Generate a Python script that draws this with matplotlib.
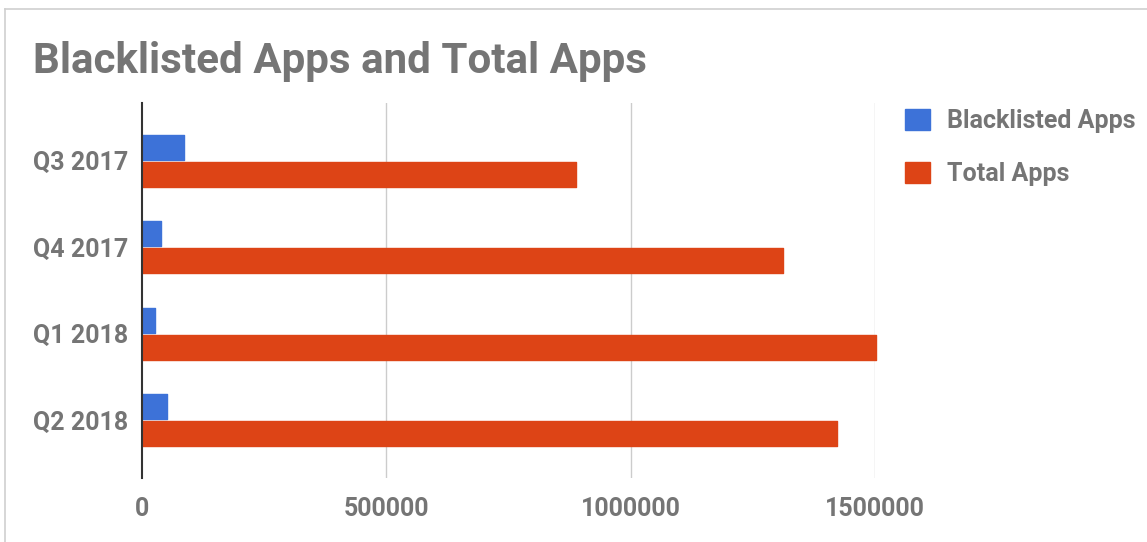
import numpy as np
import matplotlib.pyplot as plt
from matplotlib.lines import Line2D

quarters = ['Q3 2017', 'Q4 2017', 'Q1 2018', 'Q2 2018']
blacklisted = [86000, 39000, 27000, 52000]
total = [888000, 1312000, 1502000, 1422000]
x_ticks = [0, 500000, 1000000, 1500000]

blue = '#3D72D8'
orange = '#DD4416'
text_grey = '#757575'

plt.rcParams['font.family'] = ['Roboto', 'DejaVu Sans']
plt.rcParams['font.weight'] = 'bold'

fig = plt.figure(figsize=(11.47, 5.42), dpi=100)
ax = fig.add_axes([0.1238, 0.1181, 0.6391, 0.6919])

y = np.arange(len(quarters))
h = 0.29
ax.barh(y - 0.155, blacklisted, height=h, color=blue, edgecolor=blue,
        linewidth=1, joinstyle='round', label='Blacklisted Apps', clip_on=False, zorder=3)
ax.barh(y + 0.155, total, height=h, color=orange, edgecolor=orange,
        linewidth=1, joinstyle='round', label='Total Apps', clip_on=False, zorder=3)

ax.set_xlim(0, 1500000)
ax.set_ylim(len(quarters) - 0.33, -0.67)

ax.set_xticks(x_ticks)
ax.set_xticklabels([str(v) for v in x_ticks])
ax.set_yticks(y)
ax.set_yticklabels(quarters)
ax.tick_params(axis='both', length=0, labelsize=18, labelcolor=text_grey)
ax.tick_params(axis='x', pad=14)
ax.tick_params(axis='y', pad=10)

for v in x_ticks[1:]:
    ax.axvline(v, color='#CCCCCC', linewidth=1, zorder=1)

for side in ['top', 'right', 'bottom']:
    ax.spines[side].set_visible(False)
ax.spines['left'].set_color('#333333')
ax.spines['left'].set_linewidth(1.5)
ax.spines['left'].set_zorder(4)

fig.text(0.029, 0.886, 'Blacklisted Apps and Total Apps', fontsize=30.3,
         fontweight='bold', color=text_grey, ha='left', va='center')

leg = ax.legend(loc='upper left', bbox_to_anchor=(1.041, 0.985), frameon=False,
                fontsize=18, handlelength=1.0, handleheight=0.92,
                handletextpad=0.68, labelspacing=1.17, borderpad=0, borderaxespad=0)
for t in leg.get_texts():
    t.set_color(text_grey)

# light frame around the chart
fig.add_artist(Line2D([0.004, 1], [0.983, 0.983], transform=fig.transFigure,
                      color='#CFCFCF', linewidth=1.2))
fig.add_artist(Line2D([0.0045, 0.0045], [0, 0.983], transform=fig.transFigure,
                      color='#CFCFCF', linewidth=1.2))

fig.savefig('out.png', dpi=100, facecolor='white')
